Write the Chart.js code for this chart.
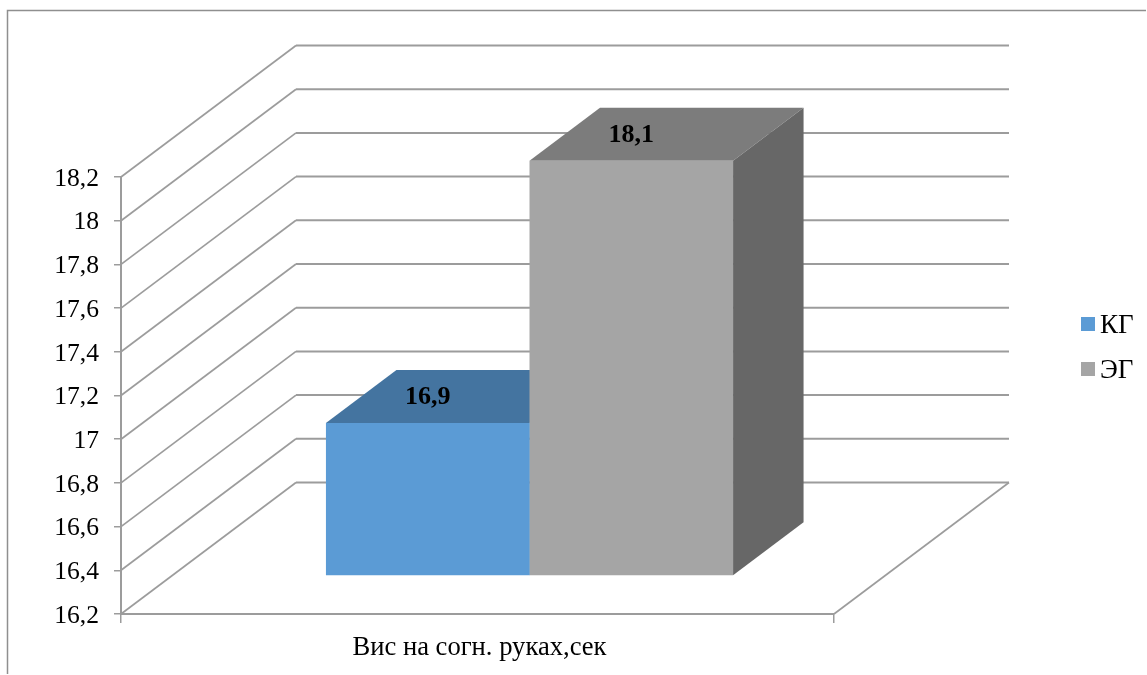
<!DOCTYPE html>
<html lang="ru">
<head>
    <meta charset="UTF-8">
    <title>Вис на согн. руках</title>
    <script src="https://cdn.jsdelivr.net/npm/chart.js"></script>
    <style>
        html, body { margin: 0; padding: 0; background: #fff; overflow: hidden; }
        #wrap { position: relative; width: 1147px; height: 675px; }
        canvas { position: absolute; left: 0; top: 0; }
        .legend-item { position: absolute; left: 1081px; font: 27px "Liberation Serif", serif; color: #000; line-height: 30px; height: 30px; white-space: nowrap; }
        .legend-item i { position: absolute; left: 0; top: 8px; width: 14px; height: 14px; }
        .legend-item span { position: absolute; left: 19px; top: 0; }
    </style>
</head>
<body>
    <div id="wrap">
        <canvas id="chart" width="1147" height="675"></canvas>
    </div>

    <script>
        const categories = ['Вис на согн. руках,сек'];
        const seriesNames = ['КГ', 'ЭГ'];
        const kgValues = [16.9];
        const egValues = [18.1];
        const valueLabels = ['16,9', '18,1'];
        const yTickLabels = ['16,2', '16,4', '16,6', '16,8', '17', '17,2', '17,4', '17,6', '17,8', '18', '18,2'];
        const axisMin = 16.2;
        const axisMax = 18.2;

        const frontColors = ['#5b9bd5', '#a5a5a5'];
        const topColors = ['#4474a0', '#7c7c7c'];
        const sideColors = ['#44749f', '#676767'];
        const gridColor = '#9c9c9c';
        const serif = '"Liberation Serif", serif';

        // offsets of the fake 3D projection, in pixels
        const wall = { x: 175, y: -131.5 };
        const barShift = { x: 52, y: -38 };
        const barDepth = { x: 70.5, y: -53 };

        function poly(ctx, pts, fill) {
            ctx.beginPath();
            pts.forEach((p, i) => i ? ctx.lineTo(p[0], p[1]) : ctx.moveTo(p[0], p[1]));
            ctx.closePath();
            ctx.fillStyle = fill;
            ctx.fill();
        }

        const box3d = {
            id: 'box3d',
            beforeDraw(chart) {
                // outer frame, open at right and bottom
                const ctx = chart.ctx;
                ctx.save();
                ctx.strokeStyle = '#8f8f8f';
                ctx.lineWidth = 1.5;
                ctx.beginPath();
                ctx.moveTo(7.5, 674);
                ctx.lineTo(7.5, 10.5);
                ctx.lineTo(1146, 10.5);
                ctx.stroke();
                ctx.restore();
            },
            beforeDatasetsDraw(chart) {
                const { ctx, chartArea: area, scales } = chart;
                const y = scales.y;

                // side wall, back wall and floor lines
                ctx.save();
                ctx.strokeStyle = gridColor;
                y.ticks.forEach(t => {
                    const py = y.getPixelForValue(t.value);
                    ctx.lineWidth = 1.7;
                    ctx.beginPath();
                    ctx.moveTo(area.left, py);
                    ctx.lineTo(area.left + wall.x, py + wall.y);
                    ctx.stroke();
                    ctx.lineWidth = 2;
                    ctx.beginPath();
                    ctx.moveTo(area.left + wall.x, py + wall.y);
                    ctx.lineTo(area.right + wall.x, py + wall.y);
                    ctx.stroke();
                });
                ctx.lineWidth = 1.7;
                ctx.beginPath();
                ctx.moveTo(area.right + wall.x, area.bottom + wall.y);
                ctx.lineTo(area.right, area.bottom);
                ctx.stroke();
                ctx.restore();

                // top and side faces go under the fronts
                chart.data.datasets.forEach((ds, i) => {
                    const bar = chart.getDatasetMeta(i).data[0];
                    const l = bar.x - bar.width / 2 + barShift.x;
                    const r = bar.x + bar.width / 2 + barShift.x;
                    const t = bar.y + barShift.y;
                    const b = bar.base + barShift.y;
                    poly(ctx, [[l, t], [r, t], [r + barDepth.x, t + barDepth.y], [l + barDepth.x, t + barDepth.y]], topColors[i]);
                    poly(ctx, [[r, t], [r + barDepth.x, t + barDepth.y], [r + barDepth.x, b + barDepth.y], [r, b]], sideColors[i]);
                });

                // the library's own bars become the front faces
                ctx.save();
                ctx.translate(barShift.x, barShift.y);
            },
            afterDatasetsDraw(chart) {
                const ctx = chart.ctx;
                ctx.restore();

                ctx.save();
                ctx.font = 'bold 26px ' + serif;
                ctx.fillStyle = '#000';
                ctx.textAlign = 'center';
                ctx.textBaseline = 'middle';
                chart.data.datasets.forEach((ds, i) => {
                    const bar = chart.getDatasetMeta(i).data[0];
                    ctx.fillText(valueLabels[i], bar.x + barShift.x, bar.y + barShift.y - 26);
                });
                ctx.restore();
            }
        };

        new Chart(document.getElementById('chart').getContext('2d'), {
            type: 'bar',
            data: {
                labels: categories,
                datasets: [
                    { label: seriesNames[0], data: kgValues, base: axisMin, backgroundColor: frontColors[0], clip: false },
                    { label: seriesNames[1], data: egValues, base: axisMin, backgroundColor: frontColors[1], clip: false }
                ]
            },
            options: {
                responsive: false,
                animation: false,
                layout: { padding: { top: 177, left: 0, right: 313, bottom: 0 } },
                datasets: { bar: { categoryPercentage: 0.571, barPercentage: 1 } },
                plugins: { legend: { display: false }, tooltip: { enabled: false } },
                scales: {
                    x: {
                        afterFit(scale) { scale.height = 61; },
                        border: { color: gridColor, width: 2 },
                        grid: { drawOnChartArea: false, color: gridColor, tickLength: 9, lineWidth: 1.5 },
                        ticks: { color: '#000', padding: 9, labelOffset: 2, maxRotation: 0, font: { family: serif, size: 26.6 } }
                    },
                    y: {
                        min: axisMin,
                        max: axisMax,
                        afterFit(scale) { scale.width = 121; },
                        border: { color: gridColor, width: 2 },
                        grid: { drawOnChartArea: false, color: gridColor, tickLength: 7, lineWidth: 1.5 },
                        ticks: {
                            stepSize: 0.2,
                            autoSkip: false,
                            color: '#000',
                            padding: 15,
                            labelOffset: 2,
                            font: { family: serif, size: 25.6 },
                            callback: (value, index) => yTickLabels[index]
                        }
                    }
                }
            },
            plugins: [box3d]
        });

        // series key, placed by hand to the right of the plot
        const wrap = document.getElementById('wrap');
        seriesNames.forEach((name, i) => {
            const item = document.createElement('div');
            item.className = 'legend-item';
            item.style.top = (309 + i * 45) + 'px';
            item.innerHTML = '<i style="background:' + frontColors[i] + '"></i><span>' + name + '</span>';
            wrap.appendChild(item);
        });
    </script>
</body>
</html>
